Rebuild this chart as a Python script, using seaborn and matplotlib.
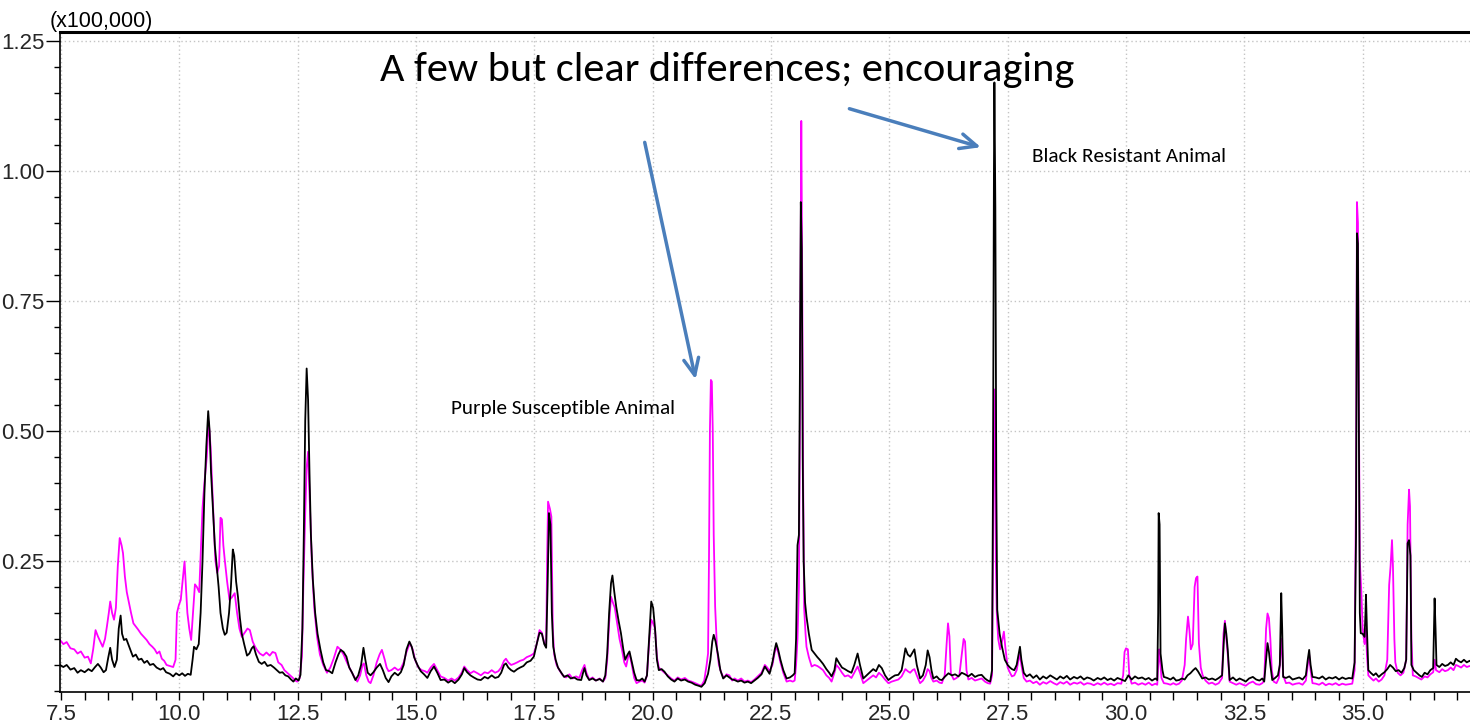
import numpy as np
import pandas as pd
import matplotlib
matplotlib.use("Agg")
import matplotlib.pyplot as plt
from matplotlib import font_manager
from matplotlib.ticker import MultipleLocator
import seaborn as sns

# Retention time (min) and detector response (x100,000) for the resistant animal (black trace)
resistant_time = [
    7.48, 7.55, 7.62, 7.70, 7.78, 7.85, 7.92, 8.00, 8.08, 8.15, 8.22, 8.28, 8.34, 8.40, 8.45, 8.50,
    8.54, 8.58, 8.63, 8.68, 8.72, 8.76, 8.79, 8.83, 8.88, 8.92, 8.97, 9.02, 9.08, 9.14, 9.20, 9.26,
    9.32, 9.38, 9.45, 9.52, 9.60, 9.66, 9.72, 9.80, 9.87, 9.93, 10.00, 10.06, 10.12, 10.18, 10.24,
    10.28, 10.31, 10.36, 10.41, 10.45, 10.49, 10.53, 10.57, 10.61, 10.64, 10.67, 10.71, 10.75, 10.79,
    10.83, 10.87, 10.92, 10.96, 11.00, 11.05, 11.09, 11.13, 11.16, 11.20, 11.24, 11.28, 11.32, 11.37,
    11.43, 11.48, 11.53, 11.57, 11.62, 11.68, 11.74, 11.80, 11.86, 11.93, 12.00, 12.06, 12.12, 12.18,
    12.24, 12.30, 12.36, 12.41, 12.46, 12.52, 12.56, 12.60, 12.63, 12.66, 12.69, 12.72, 12.75, 12.78,
    12.82, 12.87, 12.92, 12.98, 13.04, 13.10, 13.17, 13.23, 13.30, 13.36, 13.41, 13.47, 13.53, 13.59,
    13.65, 13.72, 13.78, 13.84, 13.89, 13.93, 13.98, 14.04, 14.10, 14.17, 14.24, 14.30, 14.36, 14.42,
    14.48, 14.55, 14.62, 14.68, 14.74, 14.80, 14.86, 14.91, 14.96, 15.03, 15.10, 15.17, 15.24, 15.31,
    15.38, 15.45, 15.52, 15.60, 15.68, 15.75, 15.82, 15.90, 15.97, 16.02, 16.08, 16.15, 16.22, 16.30,
    16.37, 16.45, 16.52, 16.60, 16.67, 16.74, 16.80, 16.86, 16.90, 16.95, 17.01, 17.07, 17.14, 17.20,
    17.27, 17.34, 17.42, 17.49, 17.55, 17.61, 17.66, 17.71, 17.75, 17.78, 17.81, 17.84, 17.87, 17.90,
    17.95, 18.00, 18.07, 18.13, 18.20, 18.27, 18.34, 18.41, 18.49, 18.53, 18.56, 18.60, 18.66, 18.73,
    18.80, 18.88, 18.95, 19.00, 19.04, 19.08, 19.12, 19.15, 19.19, 19.23, 19.28, 19.33, 19.38, 19.42,
    19.47, 19.51, 19.56, 19.61, 19.66, 19.72, 19.78, 19.83, 19.88, 19.93, 19.97, 20.01, 20.05, 20.09,
    20.13, 20.19, 20.25, 20.32, 20.39, 20.46, 20.53, 20.60, 20.68, 20.75, 20.82, 20.90, 20.97, 21.03,
    21.10, 21.17, 21.22, 21.26, 21.29, 21.33, 21.38, 21.43, 21.49, 21.56, 21.62, 21.68, 21.73, 21.80,
    21.87, 21.94, 22.01, 22.08, 22.15, 22.22, 22.30, 22.37, 22.42, 22.47, 22.53, 22.58, 22.61, 22.65,
    22.70, 22.76, 22.83, 22.90, 22.96, 23.00, 23.03, 23.06, 23.09, 23.11, 23.13, 23.15, 23.17, 23.19,
    23.22, 23.25, 23.30, 23.36, 23.42, 23.48, 23.53, 23.60, 23.67, 23.73, 23.78, 23.84, 23.88, 23.93,
    24.00, 24.06, 24.13, 24.20, 24.26, 24.33, 24.38, 24.45, 24.52, 24.59, 24.66, 24.72, 24.78, 24.84,
    24.91, 24.98, 25.05, 25.12, 25.19, 25.26, 25.30, 25.34, 25.39, 25.44, 25.49, 25.53, 25.58, 25.65,
    25.71, 25.77, 25.81, 25.85, 25.89, 25.93, 26.00, 26.06, 26.11, 26.18, 26.25, 26.32, 26.39, 26.46,
    26.53, 26.60, 26.67, 26.74, 26.81, 26.88, 26.95, 27.02, 27.08, 27.13, 27.17, 27.19, 27.21, 27.22,
    27.24, 27.26, 27.28, 27.33, 27.38, 27.44, 27.50, 27.55, 27.59, 27.64, 27.69, 27.73, 27.76, 27.79,
    27.84, 27.90, 27.97, 28.04, 28.11, 28.18, 28.25, 28.32, 28.40, 28.47, 28.54, 28.61, 28.68, 28.75,
    28.82, 28.90, 28.97, 29.04, 29.11, 29.18, 29.25, 29.32, 29.40, 29.47, 29.54, 29.61, 29.68, 29.75,
    29.82, 29.90, 29.98, 30.05, 30.12, 30.19, 30.26, 30.34, 30.41, 30.48, 30.55, 30.62, 30.66, 30.68,
    30.69, 30.71, 30.73, 30.77, 30.80, 30.87, 30.94, 31.00, 31.06, 31.12, 31.18, 31.24, 31.30, 31.36,
    31.42, 31.47, 31.52, 31.57, 31.61, 31.68, 31.75, 31.82, 31.89, 31.96, 32.03, 32.07, 32.09, 32.12,
    32.15, 32.19, 32.26, 32.33, 32.40, 32.47, 32.53, 32.60, 32.68, 32.75, 32.82, 32.88, 32.92, 32.96,
    32.99, 33.02, 33.05, 33.09, 33.15, 33.21, 33.25, 33.28, 33.30, 33.32, 33.38, 33.45, 33.52, 33.59,
    33.66, 33.73, 33.80, 33.84, 33.87, 33.90, 33.94, 34.01, 34.08, 34.15, 34.22, 34.29, 34.36, 34.43,
    34.50, 34.57, 34.64, 34.71, 34.78, 34.83, 34.86, 34.88, 34.90, 34.92, 34.94, 34.96, 35.00, 35.04,
    35.06, 35.07, 35.09, 35.12, 35.17, 35.23, 35.28, 35.34, 35.40, 35.46, 35.52, 35.58, 35.64, 35.70,
    35.76, 35.82, 35.88, 35.92, 35.95, 35.98, 36.01, 36.03, 36.08, 36.14, 36.20, 36.25, 36.31, 36.37,
    36.43, 36.49, 36.52, 36.54, 36.56, 36.62, 36.68, 36.74, 36.80, 36.86, 36.92, 36.97, 37.02, 37.08,
    37.14, 37.20, 37.26, 37.34,
]
resistant_signal = [
    0.050, 0.046, 0.050, 0.041, 0.044, 0.035, 0.040, 0.036, 0.042, 0.038, 0.046, 0.052, 0.045, 0.036, 0.040, 0.065,
    0.083, 0.060, 0.046, 0.060, 0.120, 0.145, 0.110, 0.098, 0.100, 0.090, 0.078, 0.066, 0.070, 0.060, 0.062, 0.054,
    0.058, 0.050, 0.052, 0.045, 0.041, 0.044, 0.036, 0.033, 0.028, 0.034, 0.030, 0.034, 0.029, 0.033, 0.031,
    0.060, 0.085, 0.080, 0.090, 0.150, 0.250, 0.380, 0.470, 0.538, 0.500, 0.420, 0.350, 0.280, 0.240,
    0.200, 0.150, 0.120, 0.108, 0.112, 0.150, 0.200, 0.272, 0.260, 0.210, 0.180, 0.140, 0.110, 0.090,
    0.068, 0.072, 0.082, 0.086, 0.070, 0.056, 0.052, 0.056, 0.048, 0.050, 0.045, 0.040, 0.035, 0.036,
    0.030, 0.028, 0.022, 0.018, 0.024, 0.020, 0.031, 0.120, 0.300, 0.520, 0.620, 0.560, 0.420, 0.300,
    0.215, 0.150, 0.110, 0.080, 0.055, 0.040, 0.038, 0.034, 0.055, 0.070, 0.079, 0.075, 0.066, 0.045,
    0.035, 0.021, 0.030, 0.050, 0.083, 0.060, 0.035, 0.030, 0.036, 0.045, 0.052, 0.040, 0.025, 0.017,
    0.028, 0.035, 0.030, 0.036, 0.050, 0.080, 0.095, 0.085, 0.065, 0.050, 0.038, 0.032, 0.025, 0.038,
    0.047, 0.035, 0.021, 0.022, 0.016, 0.020, 0.015, 0.022, 0.032, 0.044, 0.036, 0.030, 0.026, 0.022,
    0.021, 0.027, 0.024, 0.030, 0.025, 0.027, 0.035, 0.050, 0.053, 0.045, 0.040, 0.037, 0.042, 0.045,
    0.048, 0.055, 0.058, 0.066, 0.090, 0.112, 0.110, 0.090, 0.083, 0.200, 0.342, 0.320, 0.150, 0.085,
    0.060, 0.045, 0.035, 0.027, 0.030, 0.024, 0.026, 0.022, 0.021, 0.035, 0.044, 0.030, 0.021, 0.024,
    0.020, 0.023, 0.018, 0.030, 0.072, 0.150, 0.207, 0.222, 0.190, 0.162, 0.135, 0.111, 0.080, 0.060,
    0.070, 0.076, 0.055, 0.035, 0.021, 0.020, 0.024, 0.018, 0.030, 0.110, 0.172, 0.160, 0.120, 0.060,
    0.040, 0.042, 0.037, 0.028, 0.022, 0.018, 0.024, 0.020, 0.022, 0.018, 0.016, 0.012, 0.010, 0.008,
    0.015, 0.033, 0.060, 0.095, 0.108, 0.095, 0.070, 0.040, 0.024, 0.030, 0.026, 0.022, 0.021, 0.018,
    0.020, 0.016, 0.018, 0.015, 0.020, 0.025, 0.032, 0.047, 0.040, 0.033, 0.055, 0.080, 0.092, 0.080,
    0.060, 0.040, 0.024, 0.026, 0.030, 0.034, 0.100, 0.280, 0.300, 0.600, 0.940, 0.850, 0.450, 0.250,
    0.170, 0.143, 0.110, 0.079, 0.072, 0.065, 0.060, 0.052, 0.042, 0.035, 0.028, 0.040, 0.063, 0.055,
    0.045, 0.042, 0.038, 0.035, 0.050, 0.072, 0.050, 0.024, 0.030, 0.036, 0.042, 0.038, 0.050, 0.044,
    0.030, 0.021, 0.026, 0.030, 0.031, 0.040, 0.060, 0.082, 0.070, 0.066, 0.074, 0.080, 0.050, 0.024,
    0.030, 0.050, 0.078, 0.065, 0.040, 0.024, 0.028, 0.022, 0.021, 0.028, 0.034, 0.030, 0.032, 0.028,
    0.035, 0.032, 0.028, 0.033, 0.027, 0.030, 0.031, 0.024, 0.020, 0.018, 0.040, 0.400, 1.000, 1.170,
    0.930, 0.400, 0.156, 0.110, 0.085, 0.060, 0.050, 0.045, 0.042, 0.040, 0.050, 0.070, 0.085, 0.060,
    0.035, 0.028, 0.032, 0.025, 0.030, 0.022, 0.028, 0.024, 0.030, 0.026, 0.022, 0.028, 0.024, 0.029,
    0.022, 0.027, 0.024, 0.028, 0.022, 0.026, 0.024, 0.020, 0.025, 0.022, 0.026, 0.021, 0.024, 0.020,
    0.025, 0.022, 0.019, 0.030, 0.022, 0.028, 0.024, 0.026, 0.022, 0.025, 0.020, 0.024, 0.021, 0.150,
    0.342, 0.320, 0.072, 0.040, 0.027, 0.025, 0.022, 0.026, 0.020, 0.021, 0.024, 0.022, 0.030, 0.034,
    0.040, 0.044, 0.038, 0.030, 0.024, 0.026, 0.022, 0.024, 0.021, 0.025, 0.030, 0.100, 0.130, 0.110,
    0.079, 0.021, 0.026, 0.020, 0.024, 0.021, 0.018, 0.024, 0.027, 0.022, 0.020, 0.024, 0.018, 0.060,
    0.092, 0.075, 0.050, 0.021, 0.025, 0.030, 0.050, 0.188, 0.120, 0.027, 0.025, 0.028, 0.022, 0.024,
    0.026, 0.022, 0.030, 0.060, 0.079, 0.050, 0.027, 0.026, 0.024, 0.028, 0.022, 0.026, 0.024, 0.027,
    0.022, 0.026, 0.023, 0.025, 0.024, 0.055, 0.300, 0.880, 0.860, 0.500, 0.150, 0.111, 0.110, 0.104,
    0.150, 0.185, 0.120, 0.040, 0.035, 0.030, 0.034, 0.027, 0.032, 0.036, 0.042, 0.050, 0.045, 0.038,
    0.040, 0.035, 0.044, 0.060, 0.284, 0.290, 0.260, 0.050, 0.040, 0.035, 0.030, 0.027, 0.035, 0.032,
    0.040, 0.044, 0.178, 0.120, 0.050, 0.046, 0.052, 0.048, 0.050, 0.055, 0.050, 0.062, 0.058, 0.055,
    0.060, 0.055, 0.058, 0.053,
]

# Retention time (min) and detector response (x100,000) for the susceptible animal (purple trace)
susceptible_time = [
    7.48, 7.55, 7.62, 7.70, 7.78, 7.85, 7.92, 8.00, 8.07, 8.13, 8.18, 8.23, 8.28, 8.33, 8.38, 8.43,
    8.47, 8.51, 8.54, 8.58, 8.62, 8.66, 8.70, 8.74, 8.78, 8.81, 8.85, 8.89, 8.93, 8.98, 9.03, 9.08,
    9.13, 9.19, 9.25, 9.31, 9.37, 9.43, 9.48, 9.53, 9.58, 9.63, 9.68, 9.73, 9.80, 9.87, 9.92, 9.95,
    9.99, 10.03, 10.08, 10.11, 10.14, 10.17, 10.21, 10.25, 10.29, 10.33, 10.37, 10.42, 10.46, 10.49,
    10.53, 10.58, 10.62, 10.66, 10.69, 10.73, 10.76, 10.80, 10.84, 10.87, 10.90, 10.93, 10.96, 11.01,
    11.06, 11.11, 11.17, 11.22, 11.27, 11.32, 11.38, 11.44, 11.49, 11.55, 11.60, 11.64, 11.70, 11.77,
    11.84, 11.91, 11.97, 12.03, 12.09, 12.16, 12.22, 12.28, 12.34, 12.40, 12.45, 12.49, 12.54, 12.59,
    12.62, 12.66, 12.69, 12.72, 12.75, 12.80, 12.85, 12.91, 12.97, 13.04, 13.12, 13.19, 13.26, 13.34,
    13.40, 13.47, 13.55, 13.62, 13.69, 13.76, 13.82, 13.87, 13.90, 13.95, 14.00, 14.04, 14.10, 14.17,
    14.23, 14.28, 14.34, 14.38, 14.42, 14.48, 14.55, 14.62, 14.68, 14.74, 14.80, 14.87, 14.93, 14.98,
    15.05, 15.12, 15.19, 15.24, 15.31, 15.38, 15.45, 15.52, 15.60, 15.68, 15.75, 15.82, 15.90, 15.97,
    16.02, 16.08, 16.15, 16.22, 16.30, 16.37, 16.45, 16.52, 16.60, 16.67, 16.74, 16.80, 16.86, 16.90,
    16.95, 17.01, 17.07, 17.14, 17.20, 17.27, 17.34, 17.42, 17.49, 17.55, 17.61, 17.66, 17.71, 17.75,
    17.77, 17.79, 17.83, 17.86, 17.89, 17.92, 17.97, 18.03, 18.10, 18.17, 18.24, 18.31, 18.38, 18.45,
    18.51, 18.56, 18.60, 18.66, 18.73, 18.80, 18.88, 18.95, 19.00, 19.04, 19.08, 19.12, 19.16, 19.20,
    19.25, 19.30, 19.35, 19.40, 19.44, 19.48, 19.51, 19.56, 19.61, 19.66, 19.72, 19.78, 19.83, 19.88,
    19.93, 19.97, 20.01, 20.05, 20.09, 20.13, 20.19, 20.25, 20.32, 20.39, 20.46, 20.53, 20.60, 20.68,
    20.75, 20.82, 20.90, 20.97, 21.03, 21.09, 21.14, 21.17, 21.19, 21.21, 21.23, 21.25, 21.27, 21.29,
    21.32, 21.36, 21.40, 21.45, 21.50, 21.56, 21.62, 21.68, 21.73, 21.80, 21.87, 21.94, 22.01, 22.08,
    22.15, 22.22, 22.30, 22.37, 22.42, 22.47, 22.53, 22.58, 22.61, 22.65, 22.70, 22.76, 22.83, 22.90,
    22.96, 23.00, 23.03, 23.06, 23.09, 23.11, 23.13, 23.14, 23.16, 23.18, 23.20, 23.23, 23.25, 23.30,
    23.36, 23.42, 23.48, 23.53, 23.60, 23.67, 23.73, 23.78, 23.84, 23.88, 23.93, 24.00, 24.06, 24.13,
    24.20, 24.26, 24.33, 24.38, 24.45, 24.52, 24.59, 24.66, 24.72, 24.78, 24.84, 24.91, 24.98, 25.05,
    25.12, 25.19, 25.26, 25.30, 25.34, 25.39, 25.44, 25.49, 25.53, 25.58, 25.65, 25.71, 25.77, 25.81,
    25.85, 25.89, 25.93, 26.00, 26.06, 26.11, 26.17, 26.21, 26.24, 26.27, 26.30, 26.36, 26.42, 26.48,
    26.53, 26.57, 26.60, 26.63, 26.67, 26.74, 26.81, 26.88, 26.95, 27.02, 27.08, 27.13, 27.17, 27.19,
    27.21, 27.23, 27.25, 27.27, 27.30, 27.34, 27.38, 27.42, 27.45, 27.50, 27.55, 27.59, 27.64, 27.69,
    27.73, 27.76, 27.79, 27.84, 27.90, 27.97, 28.04, 28.11, 28.18, 28.25, 28.32, 28.40, 28.47, 28.54,
    28.61, 28.68, 28.75, 28.82, 28.90, 28.97, 29.04, 29.11, 29.18, 29.25, 29.32, 29.40, 29.47, 29.54,
    29.61, 29.68, 29.75, 29.82, 29.90, 29.94, 29.97, 30.00, 30.04, 30.07, 30.12, 30.19, 30.26, 30.34,
    30.41, 30.48, 30.55, 30.62, 30.66, 30.68, 30.70, 30.72, 30.75, 30.80, 30.87, 30.94, 31.00, 31.06,
    31.12, 31.18, 31.24, 31.27, 31.31, 31.34, 31.37, 31.41, 31.45, 31.48, 31.51, 31.54, 31.58, 31.62,
    31.68, 31.75, 31.82, 31.89, 31.96, 32.03, 32.06, 32.09, 32.12, 32.15, 32.19, 32.26, 32.33, 32.40,
    32.47, 32.53, 32.60, 32.68, 32.75, 32.82, 32.88, 32.92, 32.96, 32.99, 33.02, 33.05, 33.08, 33.12,
    33.18, 33.23, 33.27, 33.29, 33.32, 33.38, 33.45, 33.52, 33.59, 33.66, 33.73, 33.80, 33.84, 33.87,
    33.90, 33.94, 34.01, 34.08, 34.15, 34.22, 34.29, 34.36, 34.43, 34.50, 34.57, 34.64, 34.71, 34.78,
    34.83, 34.86, 34.88, 34.90, 34.92, 34.94, 34.97, 35.00, 35.04, 35.07, 35.09, 35.12, 35.17, 35.23,
    35.28, 35.34, 35.40, 35.46, 35.52, 35.56, 35.59, 35.62, 35.64, 35.67, 35.69, 35.74, 35.80, 35.86,
    35.92, 35.95, 35.98, 36.00, 36.03, 36.06, 36.12, 36.18, 36.24, 36.31, 36.37, 36.43, 36.49, 36.52,
    36.55, 36.62, 36.68, 36.74, 36.80, 36.86, 36.92, 36.97, 37.02, 37.08, 37.14, 37.20, 37.26, 37.34,
]
susceptible_signal = [
    0.098, 0.090, 0.094, 0.082, 0.080, 0.072, 0.076, 0.064, 0.066, 0.053, 0.080, 0.117, 0.105, 0.095, 0.085, 0.100,
    0.124, 0.150, 0.172, 0.150, 0.137, 0.160, 0.240, 0.294, 0.280, 0.265, 0.220, 0.190, 0.172, 0.150, 0.130, 0.124,
    0.118, 0.110, 0.104, 0.098, 0.090, 0.085, 0.080, 0.072, 0.076, 0.062, 0.058, 0.050, 0.048, 0.046, 0.060, 0.150,
    0.165, 0.175, 0.220, 0.249, 0.200, 0.150, 0.120, 0.098, 0.150, 0.205, 0.200, 0.190, 0.280, 0.352,
    0.400, 0.450, 0.518, 0.470, 0.406, 0.320, 0.252, 0.227, 0.240, 0.333, 0.330, 0.280, 0.252, 0.210,
    0.175, 0.180, 0.188, 0.150, 0.120, 0.104, 0.112, 0.120, 0.117, 0.095, 0.085, 0.079, 0.072, 0.068,
    0.074, 0.068, 0.075, 0.073, 0.055, 0.050, 0.040, 0.035, 0.030, 0.025, 0.020, 0.018, 0.024, 0.066,
    0.200, 0.342, 0.430, 0.460, 0.380, 0.246, 0.160, 0.104, 0.070, 0.050, 0.035, 0.045, 0.062, 0.085,
    0.080, 0.070, 0.053, 0.040, 0.028, 0.018, 0.030, 0.050, 0.053, 0.030, 0.018, 0.015, 0.030, 0.055,
    0.070, 0.079, 0.060, 0.045, 0.038, 0.040, 0.045, 0.040, 0.043, 0.055, 0.075, 0.092, 0.080, 0.060,
    0.045, 0.040, 0.038, 0.035, 0.045, 0.052, 0.040, 0.028, 0.025, 0.020, 0.024, 0.020, 0.026, 0.036,
    0.047, 0.040, 0.034, 0.038, 0.034, 0.030, 0.036, 0.034, 0.040, 0.035, 0.038, 0.045, 0.058, 0.062,
    0.055, 0.050, 0.052, 0.055, 0.058, 0.060, 0.065, 0.068, 0.072, 0.090, 0.117, 0.112, 0.092, 0.085,
    0.250, 0.364, 0.350, 0.335, 0.120, 0.070, 0.050, 0.040, 0.030, 0.026, 0.032, 0.024, 0.028, 0.025,
    0.040, 0.050, 0.035, 0.022, 0.026, 0.020, 0.024, 0.018, 0.025, 0.060, 0.130, 0.181, 0.170, 0.160,
    0.130, 0.100, 0.080, 0.055, 0.047, 0.065, 0.072, 0.050, 0.025, 0.015, 0.018, 0.020, 0.016, 0.030,
    0.100, 0.137, 0.130, 0.120, 0.065, 0.045, 0.040, 0.035, 0.030, 0.024, 0.020, 0.026, 0.022, 0.025,
    0.020, 0.018, 0.015, 0.012, 0.010, 0.020, 0.050, 0.072, 0.252, 0.502, 0.598, 0.595, 0.500, 0.300,
    0.162, 0.080, 0.050, 0.035, 0.025, 0.032, 0.030, 0.020, 0.024, 0.020, 0.024, 0.018, 0.020, 0.017,
    0.022, 0.028, 0.035, 0.050, 0.045, 0.038, 0.050, 0.075, 0.085, 0.075, 0.055, 0.035, 0.018, 0.020,
    0.018, 0.020, 0.050, 0.100, 0.200, 0.500, 0.900, 1.096, 0.780, 0.400, 0.160, 0.110, 0.085, 0.065,
    0.047, 0.050, 0.048, 0.045, 0.040, 0.030, 0.025, 0.018, 0.035, 0.050, 0.045, 0.035, 0.028, 0.030,
    0.025, 0.035, 0.047, 0.035, 0.015, 0.020, 0.025, 0.030, 0.026, 0.035, 0.030, 0.022, 0.015, 0.018,
    0.020, 0.022, 0.028, 0.035, 0.042, 0.038, 0.035, 0.040, 0.042, 0.030, 0.015, 0.020, 0.030, 0.042,
    0.038, 0.025, 0.018, 0.020, 0.016, 0.015, 0.030, 0.090, 0.130, 0.105, 0.034, 0.022, 0.025, 0.030,
    0.070, 0.100, 0.095, 0.040, 0.022, 0.025, 0.020, 0.022, 0.024, 0.018, 0.015, 0.014, 0.030, 0.250,
    0.580, 0.560, 0.250, 0.150, 0.100, 0.080, 0.095, 0.114, 0.085, 0.045, 0.035, 0.028, 0.030, 0.040,
    0.060, 0.070, 0.050, 0.025, 0.018, 0.020, 0.015, 0.018, 0.012, 0.017, 0.014, 0.019, 0.015, 0.012,
    0.017, 0.014, 0.018, 0.012, 0.016, 0.014, 0.017, 0.012, 0.015, 0.014, 0.011, 0.015, 0.012, 0.016,
    0.012, 0.014, 0.011, 0.015, 0.014, 0.030, 0.075, 0.082, 0.080, 0.030, 0.014, 0.016, 0.012, 0.015,
    0.012, 0.016, 0.011, 0.014, 0.012, 0.050, 0.080, 0.060, 0.025, 0.015, 0.014, 0.012, 0.015, 0.012,
    0.014, 0.020, 0.050, 0.100, 0.143, 0.117, 0.080, 0.090, 0.200, 0.217, 0.220, 0.092, 0.045, 0.030,
    0.020, 0.014, 0.016, 0.012, 0.015, 0.025, 0.110, 0.135, 0.100, 0.070, 0.018, 0.015, 0.012, 0.015,
    0.012, 0.010, 0.015, 0.018, 0.013, 0.012, 0.015, 0.020, 0.120, 0.149, 0.140, 0.100, 0.040, 0.018,
    0.015, 0.025, 0.080, 0.100, 0.030, 0.015, 0.016, 0.012, 0.014, 0.015, 0.012, 0.020, 0.050, 0.070,
    0.040, 0.015, 0.014, 0.012, 0.016, 0.011, 0.014, 0.012, 0.015, 0.011, 0.014, 0.012, 0.013, 0.014,
    0.040, 0.400, 0.940, 0.900, 0.550, 0.250, 0.194, 0.120, 0.090, 0.120, 0.070, 0.030, 0.025, 0.020,
    0.024, 0.018, 0.022, 0.030, 0.060, 0.204, 0.240, 0.290, 0.240, 0.100, 0.055, 0.035, 0.030, 0.035,
    0.060, 0.320, 0.387, 0.355, 0.100, 0.030, 0.028, 0.025, 0.022, 0.028, 0.026, 0.032, 0.036, 0.060,
    0.040, 0.036, 0.042, 0.038, 0.040, 0.045, 0.040, 0.050, 0.048, 0.045, 0.050, 0.046, 0.048, 0.045,
]

animal_labels = ["Purple Susceptible Animal", "Black Resistant Animal"]
trace_colors = ["#ff00ff", "#000000"]

x_major_ticks = [7.5, 10.0, 12.5, 15.0, 17.5, 20.0, 22.5, 25.0, 27.5, 30.0, 32.5, 35.0]
y_major_ticks = [0.25, 0.50, 0.75, 1.00, 1.25]


def first_font(candidates):
    names = {f.name for f in font_manager.fontManager.ttflist}
    for c in candidates:
        if c in names:
            return c
    return "DejaVu Sans"


axis_font = first_font(["Liberation Sans Narrow", "Arial Narrow", "Liberation Sans", "Arial"])
note_font = first_font(["Carlito", "Calibri", "Lato", "Open Sans"])

sns.set_theme(style="white")
plt.rcParams["font.family"] = [axis_font, "DejaVu Sans"]

df = pd.concat([
    pd.DataFrame({"time": susceptible_time, "signal": susceptible_signal, "animal": animal_labels[0]}),
    pd.DataFrame({"time": resistant_time, "signal": resistant_signal, "animal": animal_labels[1]}),
], ignore_index=True)

W, H = 1470, 727
fig = plt.figure(figsize=(W / 100, H / 100), dpi=100)
ax = fig.add_axes([60 / W, 35 / H, 1.0 - 60 / W + 0.002, 660 / H])

sns.lineplot(data=df, x="time", y="signal", hue="animal", hue_order=animal_labels,
             palette=dict(zip(animal_labels, trace_colors)), estimator=None, sort=False,
             legend=False, linewidth=1.3, ax=ax)

ax.set_xlim(7.479, 37.33)
ax.set_ylim(-0.002, 1.267)
ax.set_xlabel("")
ax.set_ylabel("")

ax.set_xticks(x_major_ticks)
ax.set_xticklabels([f"{v:.1f}" for v in x_major_ticks])
ax.set_yticks(y_major_ticks)
ax.set_yticklabels([f"{v:.2f}" for v in y_major_ticks])
ax.xaxis.set_minor_locator(MultipleLocator(0.5))
ax.yaxis.set_minor_locator(MultipleLocator(0.05))
ax.tick_params(axis="x", which="both", direction="out", length=6, width=1, color="black",
               labelsize=16, pad=3, bottom=True)
ax.tick_params(axis="y", which="major", direction="out", length=10, width=1, color="black",
               labelsize=16, pad=1, left=True)
ax.tick_params(axis="y", which="minor", direction="out", length=4, width=1, color="black", left=True)

ax.grid(True, which="major", color="#c4c4c4", linestyle=(0, (1, 2)), linewidth=1.0)
ax.set_axisbelow(True)

for side in ["left", "bottom"]:
    ax.spines[side].set_color("black")
    ax.spines[side].set_linewidth(1.2)
ax.spines["top"].set_color("black")
ax.spines["top"].set_linewidth(2.2)
ax.spines["right"].set_visible(False)

# Scale factor shown above the y axis
fig.text(50 / W, 1 - 22 / H, "(x100,000)", fontsize=15.5, ha="left", va="center", color="black")

# Notes and arrows
blue = "#4a7ebb"
ax.text(14.25, 1.194, "A few but clear differences; encouraging", fontsize=30.4,
        family=[note_font, "DejaVu Sans"], ha="left", va="center", color="black")
ax.text(15.73, 0.544, animal_labels[0], fontsize=15.2, family=[note_font, "DejaVu Sans"],
        ha="left", va="center", color="black")
ax.text(28.01, 1.027, animal_labels[1], fontsize=15.2, family=[note_font, "DejaVu Sans"],
        ha="left", va="center", color="black")
ax.annotate("", xy=(20.92, 0.594), xytext=(19.82, 1.06),
            arrowprops=dict(arrowstyle="->,head_length=1.0,head_width=0.45", color=blue, lw=2.5))
ax.annotate("", xy=(26.99, 1.044), xytext=(24.10, 1.121),
            arrowprops=dict(arrowstyle="->,head_length=1.0,head_width=0.45", color=blue, lw=2.5))

fig.savefig("out.png", dpi=100)
